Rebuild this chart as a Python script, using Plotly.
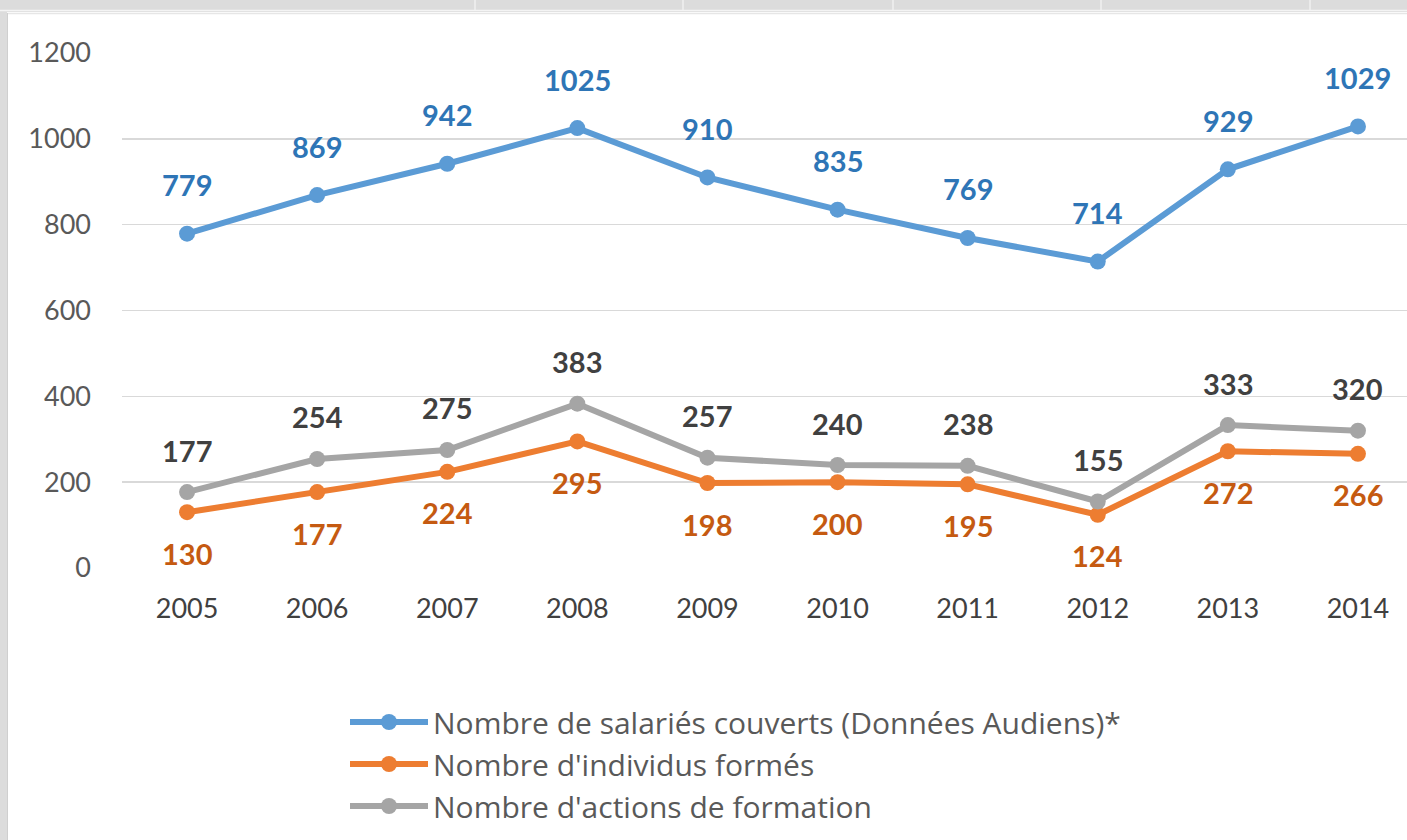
import plotly.graph_objects as go

years = ["2005", "2006", "2007", "2008", "2009", "2010", "2011", "2012", "2013", "2014"]
salaries = [779, 869, 942, 1025, 910, 835, 769, 714, 929, 1029]
individus = [130, 177, 224, 295, 198, 200, 195, 124, 272, 266]
actions = [177, 254, 275, 383, 257, 240, 238, 155, 333, 320]

names = [
    "Nombre de salariés couverts (Données Audiens)*",
    "Nombre d'individus formés",
    "Nombre d'actions de formation",
]
line_colors = ["#5B9BD5", "#ED7D31", "#A5A5A5"]
label_colors = ["#2E75B6", "#C55A11", "#404040"]
label_shift = [49, -41, 42]
series = [salaries, individus, actions]

W, H = 1407, 840
L, R, T, B = 122, 0, 53, 272
pw, ph = W - L - R, H - T - B


def px_x(p):
    return (p - L) / pw


def px_y(p):
    return (H - B - p) / ph


FONT = "Lato"

fig = go.Figure()
for i, (nm, vals) in enumerate(zip(names, series)):
    fig.add_trace(go.Scatter(
        x=years, y=vals, name=nm, mode="lines+markers",
        line=dict(color=line_colors[i], width=6),
        marker=dict(color=line_colors[i], size=16),
        legendgroup=str(i), cliponaxis=False, hoverinfo="skip",
    ))

annotations = []
for i, vals in enumerate(series):
    for j, v in enumerate(vals):
        annotations.append(dict(
            x=j, y=v, xref="x", yref="y", text=str(v), showarrow=False,
            yshift=label_shift[i],
            font=dict(family=FONT, size=29, color=label_colors[i], weight="bold"),
        ))

shapes = [
    dict(type="rect", xref="paper", yref="paper", layer="below",
         x0=px_x(7), x1=px_x(W + 5), y0=px_y(H + 5), y1=px_y(12),
         fillcolor="white", line=dict(width=0)),
    dict(type="line", xref="paper", yref="paper", layer="below",
         x0=px_x(7), x1=px_x(W + 5), y0=px_y(13.5), y1=px_y(13.5),
         line=dict(color="#e6e6e6", width=1.5)),
    dict(type="line", xref="paper", yref="paper", layer="below",
         x0=px_x(0), x1=px_x(W + 5), y0=px_y(10.5), y1=px_y(10.5),
         line=dict(color="#f4f4f4", width=1.5)),
    dict(type="line", xref="paper", yref="paper", layer="below",
         x0=px_x(7.5), x1=px_x(7.5), y0=px_y(H + 5), y1=px_y(13),
         line=dict(color="#cfcfcf", width=1)),
]
for cx in [475, 683, 893, 1101, 1310]:
    shapes.append(dict(type="line", xref="paper", yref="paper", layer="below",
                       x0=px_x(cx), x1=px_x(cx), y0=px_y(10), y1=px_y(0),
                       line=dict(color="#f0f0f0", width=1.5)))

fig.update_layout(
    width=W, height=H,
    margin=dict(l=L, r=R, t=T, b=B, pad=0),
    paper_bgcolor="#dcdcdc",
    plot_bgcolor="white",
    font=dict(family=FONT, size=27, color="#595959"),
    showlegend=True,
    legend=dict(
        orientation="v", x=px_x(345), y=px_y(696), xanchor="left", yanchor="top",
        font=dict(family="Open Sans", size=30, color="#595959"),
        tracegroupgap=0, bgcolor="rgba(0,0,0,0)", itemclick=False,
        itemwidth=78,
    ),
    xaxis=dict(
        type="category", range=[-0.5, 9.377], showgrid=False, zeroline=False,
        showline=False, ticks="", tickfont=dict(family=FONT, size=27, color="#404040"),
        ticklabelstandoff=22,
    ),
    yaxis=dict(
        range=[0, 1200], tickvals=[0, 200, 400, 600, 800, 1000, 1200],
        showgrid=True, gridcolor="#d9d9d9", gridwidth=1.5, zeroline=False,
        showline=False, ticks="", tickfont=dict(family=FONT, size=27, color="#595959"),
        ticklabelstandoff=30,
    ),
    annotations=annotations,
    shapes=shapes,
    hovermode=False,
)

fig.write_html(
    "out.html",
    config={"displayModeBar": False, "staticPlot": True},
    post_script="document.body.style.margin='0';document.body.style.padding='0';document.body.style.overflow='hidden';",
)
